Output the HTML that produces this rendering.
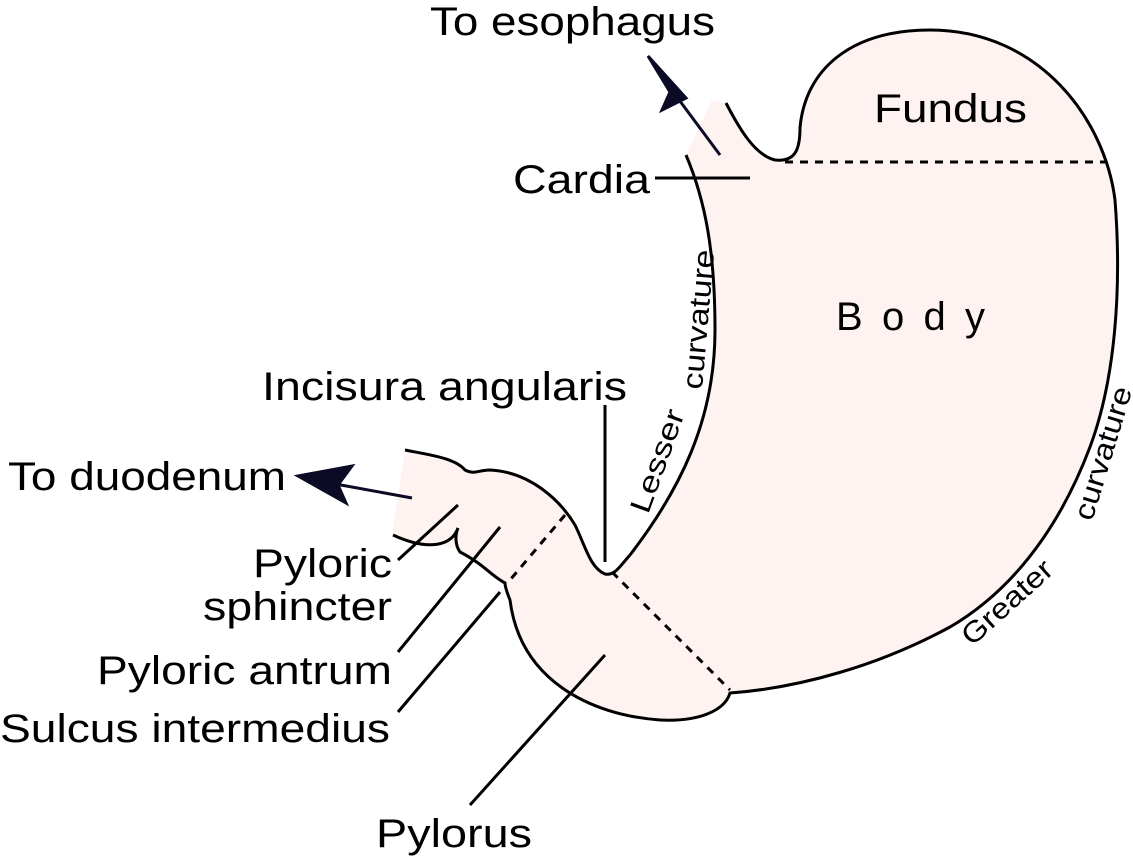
<!DOCTYPE html>
<html><head><meta charset="utf-8"><style>
html,body{margin:0;padding:0;background:#fff;}
svg{display:block;}
text{font-family:"Liberation Sans",sans-serif;fill:#000;}
</style></head><body>
<svg width="1133" height="859" viewBox="0 0 1133 859" xmlns="http://www.w3.org/2000/svg">
<path fill="#fff3f2" stroke="none" d="M686,155 L712,100 L726,103 C740,130 755,155 775,160 C795,160 800,150 800,128 C805,70 850,30 930,30 C1040,30 1105,120 1115,200 C1122,290 1115,380 1090,447 C1070,500 1030,580 950,627 C880,665 800,688 730,693 C725,710 700,722 660,720 C590,715 520,680 510,600 L505,585 C490,575 485,565 460,550 C450,545 430,548 392,535 L405,450 C430,455 455,458 465,470 C475,475 478,470 490,470 C530,472 560,500 575,525 C585,545 590,568 605,574 C615,576 620,566 630,555 C680,490 715,420 715,330 C715,250 705,200 686,155 Z"/>
<g fill="none" stroke="#000" stroke-width="3">
<path d="M726,103 C740,130 755,155 775,160 C795,162 800,150 800,128 C805,70 850,30 930,30 C1040,30 1105,120 1115,200 C1122,290 1115,380 1090,447 C1070,500 1030,580 950,627 C880,665 800,688 730,693 C725,710 700,722 660,720 C590,715 520,680 510,600 C506,590 505,585 505,583 C490,575 485,565 460,552 C455,545 455,535 458,528 C452,545 430,552 393,535"/>
<path d="M405,450 C430,455 455,458 465,470 C475,475 478,470 490,470 C530,472 560,500 575,525 C585,545 590,568 605,574 C615,576 620,566 630,555 C680,490 715,420 715,330 C715,250 705,200 686,155"/>
</g>
<g stroke="#000" stroke-width="3" stroke-dasharray="8,7" fill="none">
<line x1="785" y1="162" x2="1105" y2="162"/>
<line x1="612" y1="572" x2="730" y2="690"/>
<line x1="565" y1="515" x2="510" y2="580"/>
</g>
<g stroke="#000" stroke-width="3" fill="none">
<line x1="655" y1="178" x2="750" y2="178"/>
<line x1="605" y1="405" x2="605" y2="562"/>
<line x1="398" y1="560" x2="458" y2="505"/>
<line x1="398" y1="652" x2="500" y2="527"/>
<line x1="398" y1="712" x2="500" y2="592"/>
<line x1="470" y1="805" x2="605" y2="655"/>
</g>
<g stroke="#0b0b26" stroke-width="3" fill="#0b0b26">
<line x1="720" y1="155" x2="668" y2="85"/>
<polygon points="648,56 686,98 662,110 670,92"/>
<line x1="412" y1="498" x2="330" y2="483"/>
<polygon points="298,476 352,466 338,485 346,503"/>
</g>
<text x="430" y="35" font-size="40" textLength="285" lengthAdjust="spacingAndGlyphs">To esophagus</text>
<text x="874" y="122" font-size="40" textLength="153" lengthAdjust="spacingAndGlyphs">Fundus</text>
<text x="513" y="193" font-size="40" textLength="137" lengthAdjust="spacingAndGlyphs">Cardia</text>
<text x="836" y="330" font-size="40" textLength="149" lengthAdjust="spacing">Body</text>
<text x="262" y="400" font-size="40" textLength="365" lengthAdjust="spacingAndGlyphs">Incisura angularis</text>
<text x="8" y="490" font-size="40" textLength="278" lengthAdjust="spacingAndGlyphs">To duodenum</text>
<text x="253" y="577" font-size="40" textLength="139" lengthAdjust="spacingAndGlyphs">Pyloric</text>
<text x="203" y="620" font-size="40" textLength="189" lengthAdjust="spacingAndGlyphs">sphincter</text>
<text x="97" y="684" font-size="40" textLength="295" lengthAdjust="spacingAndGlyphs">Pyloric antrum</text>
<text x="0" y="742" font-size="40" textLength="390" lengthAdjust="spacingAndGlyphs">Sulcus intermedius</text>
<text x="376" y="847" font-size="40" textLength="156" lengthAdjust="spacingAndGlyphs">Pylorus</text>
<text font-size="29" transform="translate(648,515) rotate(-70)" textLength="108" lengthAdjust="spacingAndGlyphs">Lesser</text>
<text font-size="29" transform="translate(702,390) rotate(-85)" textLength="140" lengthAdjust="spacingAndGlyphs">curvature</text>
<text font-size="29" transform="translate(972,647) rotate(-42)" textLength="112" lengthAdjust="spacingAndGlyphs">Greater</text>
<text font-size="29" transform="translate(1092,522) rotate(-73)" textLength="138" lengthAdjust="spacingAndGlyphs">curvature</text>
</svg>
</body></html>
